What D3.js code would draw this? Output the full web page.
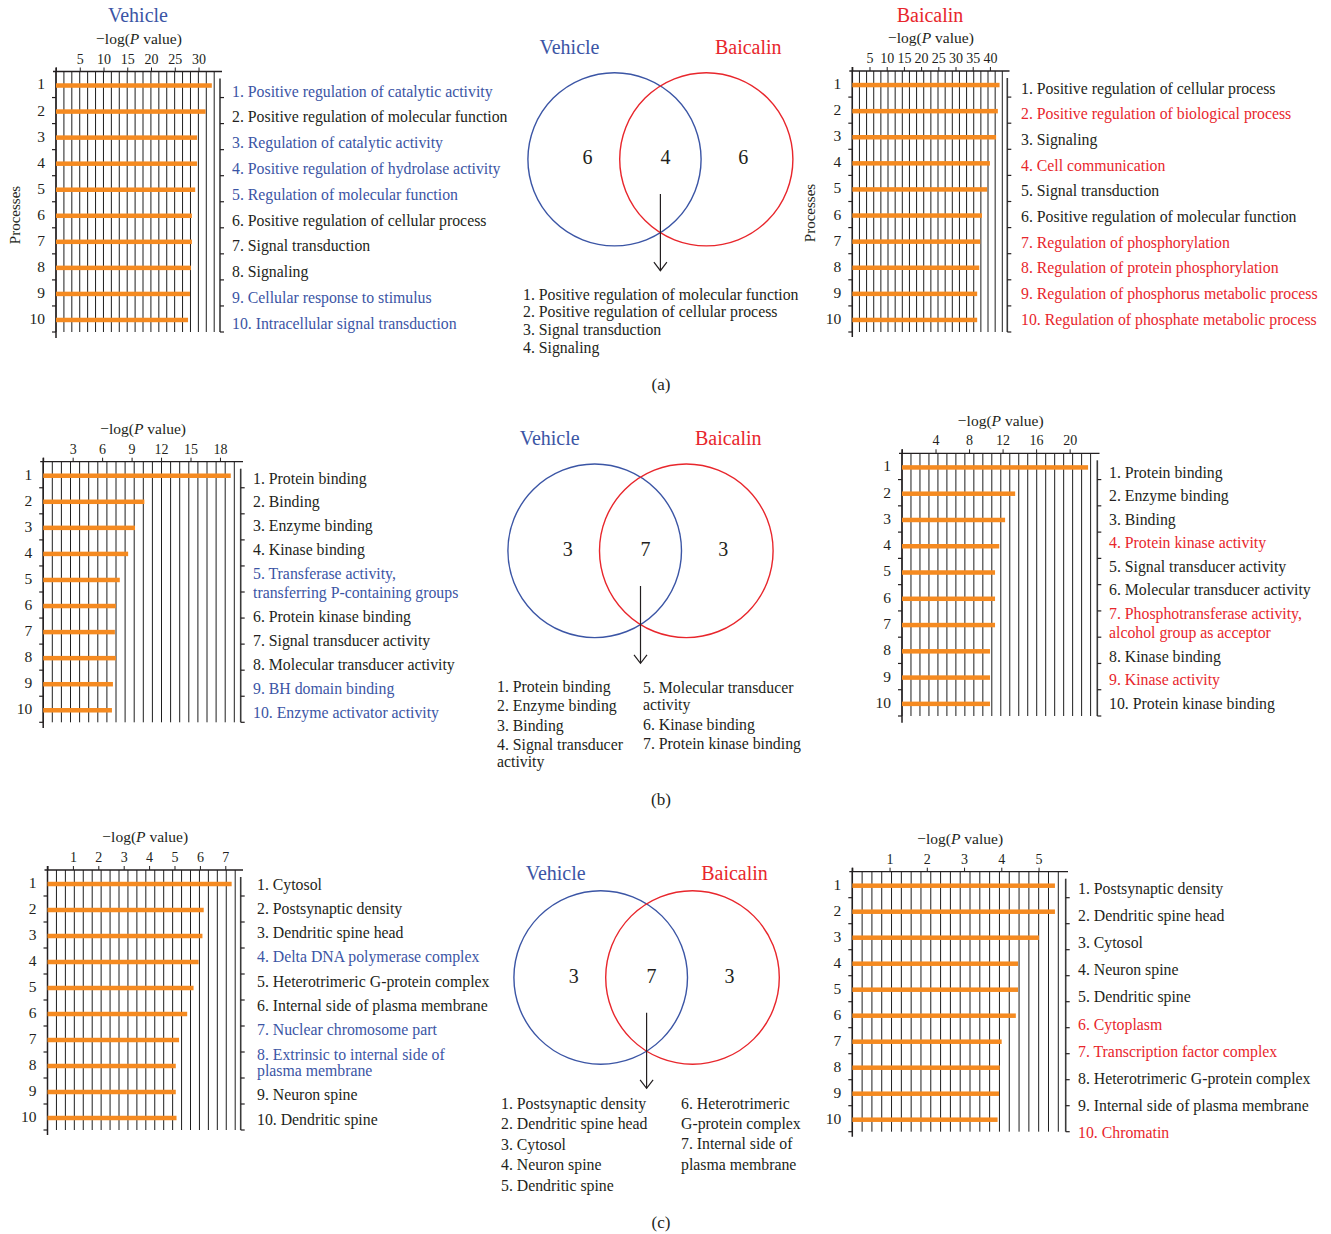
<!DOCTYPE html>
<html>
<head>
<meta charset="utf-8">
<script src="https://cdn.jsdelivr.net/npm/d3@7"></script>
<style>
  body { margin: 0; background: #ffffff; }
  svg { display: block; font-family: "Liberation Serif", "DejaVu Serif", serif; }
</style>
</head>
<body>
<svg id="chart" width="1331" height="1234"></svg>
<script>
// ================= DATA =================
const ranks = ["1", "2", "3", "4", "5", "6", "7", "8", "9", "10"];

// (a) Biological processes
const procVehicleTicks = [5, 10, 15, 20, 25, 30];
const procVehicleValues = [32.8, 31.5, 29.7, 29.7, 29.3, 28.6, 28.6, 28.4, 28.2, 27.8];
const procVehicleTerms = [
  "1. Positive regulation of catalytic activity",
  "2. Positive regulation of molecular function",
  "3. Regulation of catalytic activity",
  "4. Positive regulation of hydrolase activity",
  "5. Regulation of molecular function",
  "6. Positive regulation of cellular process",
  "7. Signal transduction",
  "8. Signaling",
  "9. Cellular response to stimulus",
  "10. Intracellular signal transduction"
];
const procVehicleGroups = ["only", "shared", "only", "only", "only", "shared", "shared", "shared", "only", "only"];

const procBaicalinTicks = [5, 10, 15, 20, 25, 30, 35, 40];
const procBaicalinValues = [42.8, 42.3, 41.8, 40.0, 39.2, 37.7, 37.2, 36.9, 36.3, 36.3];
const procBaicalinTerms = [
  "1. Positive regulation of cellular process",
  "2. Positive regulation of biological process",
  "3. Signaling",
  "4. Cell communication",
  "5. Signal transduction",
  "6. Positive regulation of molecular function",
  "7. Regulation of phosphorylation",
  "8. Regulation of protein phosphorylation",
  "9. Regulation of phosphorus metabolic process",
  "10. Regulation of phosphate metabolic process"
];
const procBaicalinGroups = ["shared", "only", "shared", "only", "shared", "shared", "only", "only", "only", "only"];

const procVennCounts = [6, 4, 6];
const procSharedTerms = [
  "1. Positive regulation of molecular function",
  "2. Positive regulation of cellular process",
  "3. Signal transduction",
  "4. Signaling"
];

// (b) Molecular functions
const funcVehicleTicks = [3, 6, 9, 12, 15, 18];
const funcVehicleValues = [19.1, 10.3, 9.35, 8.65, 7.8, 7.4, 7.3, 7.4, 7.1, 7.0];
const funcVehicleTerms = [
  "1. Protein binding",
  "2. Binding",
  "3. Enzyme binding",
  "4. Kinase binding",
  "5. Transferase activity,\ntransferring P-containing groups",
  "6. Protein kinase binding",
  "7. Signal transducer activity",
  "8. Molecular transducer activity",
  "9. BH domain binding",
  "10. Enzyme activator activity"
];
const funcVehicleGroups = ["shared", "shared", "shared", "shared", "only", "shared", "shared", "shared", "only", "only"];

const funcBaicalinTicks = [4, 8, 12, 16, 20];
const funcBaicalinValues = [22.2, 13.5, 12.3, 11.6, 11.1, 11.1, 11.1, 10.5, 10.5, 10.5];
const funcBaicalinTerms = [
  "1. Protein binding",
  "2. Enzyme binding",
  "3. Binding",
  "4. Protein kinase activity",
  "5. Signal transducer activity",
  "6. Molecular transducer activity",
  "7. Phosphotransferase activity,\nalcohol group as acceptor",
  "8. Kinase binding",
  "9. Kinase activity",
  "10. Protein kinase binding"
];
const funcBaicalinGroups = ["shared", "shared", "shared", "only", "shared", "shared", "only", "shared", "only", "shared"];

const funcVennCounts = [3, 7, 3];
const funcSharedLeft = ["1. Protein binding", "2. Enzyme binding", "3. Binding", "4. Signal transducer\nactivity"];
const funcSharedRight = ["5. Molecular transducer\nactivity", "6. Kinase binding", "7. Protein kinase binding"];

// (c) Cellular components
const compVehicleTicks = [1, 2, 3, 4, 5, 6, 7];
const compVehicleValues = [7.25, 6.15, 6.1, 5.95, 5.75, 5.5, 5.18, 5.05, 5.05, 5.08];
const compVehicleTerms = [
  "1. Cytosol",
  "2. Postsynaptic density",
  "3. Dendritic spine head",
  "4. Delta DNA polymerase complex",
  "5. Heterotrimeric G-protein complex",
  "6. Internal side of plasma membrane",
  "7. Nuclear chromosome part",
  "8. Extrinsic to internal side of\nplasma membrane",
  "9. Neuron spine",
  "10. Dendritic spine"
];
const compVehicleGroups = ["shared", "shared", "shared", "only", "shared", "shared", "only", "only", "shared", "shared"];

const compBaicalinTicks = [1, 2, 3, 4, 5];
const compBaicalinValues = [5.44, 5.44, 5.01, 4.45, 4.45, 4.39, 4.01, 3.96, 3.94, 3.9];
const compBaicalinTerms = [
  "1. Postsynaptic density",
  "2. Dendritic spine head",
  "3. Cytosol",
  "4. Neuron spine",
  "5. Dendritic spine",
  "6. Cytoplasm",
  "7. Transcription factor complex",
  "8. Heterotrimeric G-protein complex",
  "9. Internal side of plasma membrane",
  "10. Chromatin"
];
const compBaicalinGroups = ["shared", "shared", "shared", "shared", "shared", "only", "only", "shared", "shared", "only"];

const compVennCounts = [3, 7, 3];
const compSharedLeft = ["1. Postsynaptic density", "2. Dendritic spine head", "3. Cytosol", "4. Neuron spine", "5. Dendritic spine"];
const compSharedRight = ["6. Heterotrimeric\nG-protein complex", "7. Internal side of\nplasma membrane"];

const groupNames = ["Vehicle", "Baicalin"];
const panelCaptions = ["(a)", "(b)", "(c)"];

// ================= STYLE / LAYOUT =================
const BLUE = "#3b55a5", RED = "#e8262c", INK = "#231f20", ORANGE = "#f58a20", GRID = "#1e1e1e";
const LIST_SIZE = 15.8;
const svg = d3.select("#chart");

const barPanels = [
  { values: procVehicleValues, ticks: procVehicleTicks, terms: procVehicleTerms, groups: procVehicleGroups, accent: BLUE,
    x0: 56, xEnd: 214.2, xMax: 33.3, gridN: 20, rightX: 220, axisEnd: 222,
    top: 71.5, bottom: 332, axisBottom: 338,
    labelX: 232, labelY: 91, pitch: 25.8, wrap: 18,
    title: groupNames[0], titleX: 138, titleY: 15, ylab: "Processes", ylabX: 15, ylabY: 215 },
  { values: procBaicalinValues, ticks: procBaicalinTicks, terms: procBaicalinTerms, groups: procBaicalinGroups, accent: RED,
    x0: 852.3, xEnd: 1002.3, xMax: 43.6, gridN: 21, rightX: 1007.3, axisEnd: 1009.5,
    top: 71, bottom: 332, axisBottom: 337,
    labelX: 1021, labelY: 88, pitch: 25.7, wrap: 18,
    title: groupNames[1], titleX: 930, titleY: 15, ylab: "Processes", ylabX: 810, ylabY: 213 },
  { values: funcVehicleValues, ticks: funcVehicleTicks, terms: funcVehicleTerms, groups: funcVehicleGroups, accent: BLUE,
    x0: 43.2, xEnd: 234.3, xMax: 19.46, gridN: 21, rightX: 240.7, axisEnd: 243,
    top: 461.7, bottom: 722.3, axisBottom: 728,
    labelX: 253, labelY: 478, pitch: 23.9, wrap: 19 },
  { values: funcBaicalinValues, ticks: funcBaicalinTicks, terms: funcBaicalinTerms, groups: funcBaicalinGroups, accent: RED,
    x0: 902, xEnd: 1090.6, xMax: 22.5, gridN: 21, rightX: 1097.3, axisEnd: 1099.5,
    top: 453.3, bottom: 716, axisBottom: 722.7,
    labelX: 1109, labelY: 472, pitch: 23.5, wrap: 19.5 },
  { values: compVehicleValues, ticks: compVehicleTicks, terms: compVehicleTerms, groups: compVehicleGroups, accent: BLUE,
    x0: 47.5, xEnd: 235.2, xMax: 7.39, gridN: 21, rightX: 240.7, axisEnd: 243,
    top: 870, bottom: 1130, axisBottom: 1135,
    labelX: 257, labelY: 884, pitch: 24.3, wrap: 16.3 },
  { values: compBaicalinValues, ticks: compBaicalinTicks, terms: compBaicalinTerms, groups: compBaicalinGroups, accent: RED,
    x0: 852.3, xEnd: 1058.3, xMax: 5.53, gridN: 21, rightX: 1065.7, axisEnd: 1068,
    top: 871.7, bottom: 1131.7, axisBottom: 1136.7,
    labelX: 1078, labelY: 888, pitch: 27.2, wrap: 18 }
];

function termList(g, items, x, y0, pitch, wrap, colorOf) {
  const rows = [];
  let extra = 0;
  items.forEach((t, i) => {
    const lines = t.split("\n");
    rows.push({ lines, i, y: y0 + i * pitch + extra * wrap });
    extra += lines.length - 1;
  });
  const txt = g.selectAll(null).data(rows).join("text")
    .attr("font-size", LIST_SIZE)
    .attr("fill", d => colorOf(d.i));
  txt.selectAll("tspan").data(d => d.lines.map((ln, j) => ({ ln, y: d.y + j * wrap })))
    .join("tspan")
    .attr("x", x).attr("y", d => d.y).attr("dy", "0.35em")
    .text(d => d.ln);
}

function drawBarPanel(c) {
  const g = svg.append("g");
  const x = d3.scaleLinear().domain([0, c.xMax]).range([c.x0, c.xEnd]);
  const y = d3.scaleBand().domain(ranks).range([c.top, c.bottom]).paddingInner(0).paddingOuter(0);
  const color = d3.scaleOrdinal().domain(["only", "shared"]).range([c.accent, INK]);

  // vertical grid lines
  const grid = d3.range(c.gridN + 1).map(i => i * c.xMax / c.gridN);
  g.append("g").selectAll("line").data(grid).join("line")
    .attr("x1", d => x(d)).attr("x2", d => x(d))
    .attr("y1", c.top).attr("y2", c.bottom)
    .attr("stroke", GRID).attr("stroke-width", 1);

  // top axis
  const axT = g.append("g").attr("transform", `translate(0,${c.top})`)
    .call(d3.axisTop(x).tickValues([0].concat(c.ticks)).tickSize(4).tickPadding(4)
      .tickFormat(d => d === 0 ? "" : d3.format("d")(d)));
  axT.select(".domain").remove();
  axT.selectAll(".tick line").attr("stroke", INK).attr("stroke-width", 1);
  axT.selectAll(".tick text").attr("font-size", 14).attr("fill", INK)
    .attr("font-family", "Liberation Serif, serif");
  g.append("line").attr("x1", c.x0 - 3).attr("x2", c.axisEnd)
    .attr("y1", c.top).attr("y2", c.top).attr("stroke", INK).attr("stroke-width", 1.3);

  // axis title
  const tt = g.append("text").attr("x", (c.x0 + c.axisEnd) / 2).attr("y", c.top - 33)
    .attr("dy", "0.35em").attr("text-anchor", "middle").attr("font-size", 15.5).attr("fill", INK);
  tt.append("tspan").text("\u2212log(");
  tt.append("tspan").attr("font-style", "italic").text("P");
  tt.append("tspan").text(" value)");

  // left axis: band boundary ticks + number labels
  const bounds = d3.range(1, ranks.length + 1).map(i => c.top + i * y.step());
  g.append("line").attr("x1", c.x0).attr("x2", c.x0).attr("y1", c.top - 4).attr("y2", c.axisBottom)
    .attr("stroke", INK).attr("stroke-width", 1.5);
  g.append("g").selectAll("line").data(bounds).join("line")
    .attr("x1", c.x0 - 4).attr("x2", c.x0).attr("y1", d => d).attr("y2", d => d)
    .attr("stroke", INK).attr("stroke-width", 1.2);
  const axL = g.append("g").attr("transform", `translate(${c.x0},0)`)
    .call(d3.axisLeft(y).tickSize(0).tickPadding(11));
  axL.select(".domain").remove();
  axL.selectAll(".tick text").attr("font-size", 15.5).attr("fill", INK)
    .attr("font-family", "Liberation Serif, serif");

  // bars
  g.append("g").selectAll("rect").data(c.values).join("rect")
    .attr("x", x(0))
    .attr("y", (d, i) => y(ranks[i]) + y.bandwidth() / 2 - 1.25)
    .attr("width", d => x(d) - x(0))
    .attr("height", 4.5)
    .attr("fill", ORANGE);

  // right separator line with ticks
  g.append("line").attr("x1", c.rightX).attr("x2", c.rightX).attr("y1", c.top + 7).attr("y2", c.bottom)
    .attr("stroke", "#3a3a3a").attr("stroke-width", 1.6);
  g.append("g").selectAll("line").data(bounds).join("line")
    .attr("x1", c.rightX).attr("x2", c.rightX + 4).attr("y1", d => d).attr("y2", d => d)
    .attr("stroke", INK).attr("stroke-width", 1.2);

  // term list
  termList(g, c.terms, c.labelX, c.labelY, c.pitch, c.wrap, i => color(c.groups[i]));

  if (c.title) {
    g.append("text").attr("x", c.titleX).attr("y", c.titleY).attr("dy", "0.35em")
      .attr("text-anchor", "middle").attr("font-size", 20).attr("fill", c.accent).text(c.title);
  }
  if (c.ylab) {
    g.append("text").attr("transform", `translate(${c.ylabX},${c.ylabY}) rotate(-90)`)
      .attr("dy", "0.35em").attr("text-anchor", "middle").attr("font-size", 15).attr("fill", INK).text(c.ylab);
  }
}

barPanels.forEach(drawBarPanel);

// ================= VENN DIAGRAMS =================
const venns = [
  { counts: procVennCounts, cxL: 614.5, cxR: 706.3, cy: 159.3, r: 86.6, titleY: 46.7, arrowY1: 194, arrowY2: 270.7,
    lists: [{ items: procSharedTerms, x: 523, y: 294, pitch: 17.7, wrap: 17.7 }], caption: panelCaptions[0], capY: 384 },
  { counts: funcVennCounts, cxL: 594.7, cxR: 686.3, cy: 550.8, r: 86.8, titleY: 438.3, arrowY1: 586, arrowY2: 663.3,
    lists: [{ items: funcSharedLeft, x: 497, y: 686, pitch: 19.6, wrap: 17 },
            { items: funcSharedRight, x: 643, y: 687.5, pitch: 19.6, wrap: 17 }], caption: panelCaptions[1], capY: 799 },
  { counts: compVennCounts, cxL: 600.7, cxR: 692.5, cy: 977.5, r: 86.8, titleY: 873.3, arrowY1: 1012.7, arrowY2: 1088.3,
    lists: [{ items: compSharedLeft, x: 501, y: 1103, pitch: 20.5, wrap: 20.5 },
            { items: compSharedRight, x: 681, y: 1103, pitch: 20.4, wrap: 20.4 }], caption: panelCaptions[2], capY: 1222 }
];

venns.forEach(v => {
  const g = svg.append("g");
  const mid = (v.cxL + v.cxR) / 2;
  const circles = [{ cx: v.cxL, col: BLUE }, { cx: v.cxR, col: RED }];
  g.selectAll("circle").data(circles).join("circle")
    .attr("cx", d => d.cx).attr("cy", v.cy).attr("r", v.r)
    .attr("fill", "none").attr("stroke", d => d.col).attr("stroke-width", 1.4);

  // titles
  g.selectAll(".vt").data(groupNames).join("text")
    .attr("x", (d, i) => i === 0 ? v.cxL - 45 : v.cxR + 42)
    .attr("y", v.titleY).attr("dy", "0.35em").attr("text-anchor", "middle")
    .attr("font-size", 20).attr("fill", (d, i) => i === 0 ? BLUE : RED).text(d => d);

  // counts
  const countX = [v.cxL - 27, mid + 5, v.cxR + 37];
  g.selectAll(".vc").data(v.counts).join("text")
    .attr("x", (d, i) => countX[i]).attr("y", v.cy - 2).attr("dy", "0.35em")
    .attr("text-anchor", "middle").attr("font-size", 20).attr("fill", INK).text(d => d);

  // arrow
  g.append("line").attr("x1", mid).attr("x2", mid).attr("y1", v.arrowY1).attr("y2", v.arrowY2)
    .attr("stroke", INK).attr("stroke-width", 1.2);
  g.append("path")
    .attr("d", `M${mid - 6.5},${v.arrowY2 - 8.5} L${mid},${v.arrowY2} L${mid + 6.5},${v.arrowY2 - 8.5}`)
    .attr("fill", "none").attr("stroke", INK).attr("stroke-width", 1.2);

  v.lists.forEach(l => termList(g, l.items, l.x, l.y, l.pitch, l.wrap, () => INK));

  g.append("text").attr("x", 661).attr("y", v.capY).attr("dy", "0.35em")
    .attr("text-anchor", "middle").attr("font-size", 17).attr("fill", INK).text(v.caption);
});
</script>
</body>
</html>
